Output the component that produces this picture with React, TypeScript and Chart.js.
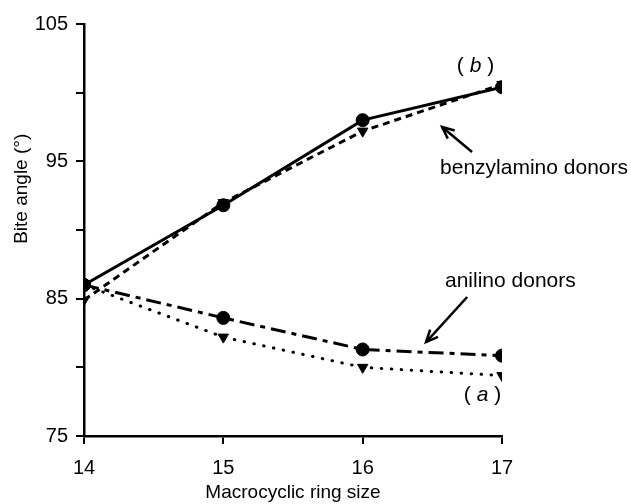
import React, { useEffect, useRef } from "react";
import { Chart, registerables } from "chart.js";

Chart.register(...registerables);

const ringSizes = [14, 15, 16, 17];
const benzylCircle = [86.0, 91.8, 98.0, 100.4];
const benzylTriangle = [84.9, 92.0, 97.2, 100.6];
const anilinoCircle = [86.0, 83.6, 81.3, 80.85];
const anilinoTriangle = [86.0, 82.2, 80.0, 79.4];

const yLabelTicks = [75, 85, 95, 105];

const FONT = "'Liberation Sans', Arial, sans-serif";

type Note = { kind: "text" | "paren" | "arrow"; text?: string; x: number; y: number; x2?: number; y2?: number };
const notes: Note[] = [
  { kind: "paren", text: "b", x: 16.81, y: 101.9 },
  { kind: "text", text: "benzylamino donors", x: 17.23, y: 94.5 },
  { kind: "arrow", x: 16.785, y: 95.68, x2: 16.57, y2: 97.5 },
  { kind: "text", text: "anilino donors", x: 17.06, y: 86.28 },
  { kind: "arrow", x: 16.75, y: 85.12, x2: 16.455, y2: 81.84 },
  { kind: "paren", text: "a", x: 16.86, y: 77.98 },
];

const notesPlugin = {
  id: "notes",
  afterDraw(chart: any) {
    const ctx = chart.ctx;
    const xs = chart.scales.x;
    const ys = chart.scales.y;
    ctx.save();
    ctx.fillStyle = "#000";
    ctx.strokeStyle = "#000";
    ctx.textBaseline = "middle";
    // y title
    ctx.save();
    ctx.translate(chart.chartArea.left - 62, ys.getPixelForValue(93));
    ctx.rotate(-Math.PI / 2);
    ctx.textAlign = "center";
    ctx.font = `19px ${FONT}`;
    ctx.fillText("Bite angle (°)", 0, 0);
    ctx.restore();
    for (const n of notes) {
      const px = xs.getPixelForValue(n.x);
      const py = ys.getPixelForValue(n.y);
      if (n.kind === "text") {
        ctx.font = `21px ${FONT}`;
        ctx.textAlign = "center";
        ctx.fillText(n.text, px, py);
      } else if (n.kind === "paren") {
        ctx.textAlign = "left";
        const normal = `21px ${FONT}`;
        const italic = `italic 21px ${FONT}`;
        ctx.font = normal;
        const wo = ctx.measureText("( ").width;
        const wc = ctx.measureText(" )").width;
        ctx.font = italic;
        const wl = ctx.measureText(n.text).width;
        const total = wo + wl + wc;
        const x0 = px - total / 2;
        ctx.font = normal;
        ctx.fillText("(", x0, py);
        ctx.font = italic;
        ctx.fillText(n.text, x0 + wo, py);
        ctx.font = normal;
        ctx.fillText(")", x0 + wo + wl + ctx.measureText(" ").width, py);
      } else {
        const hx = xs.getPixelForValue(n.x2);
        const hy = ys.getPixelForValue(n.y2);
        ctx.lineWidth = 2.5;
        ctx.setLineDash([]);
        ctx.beginPath();
        ctx.moveTo(px, py);
        ctx.lineTo(hx, hy);
        ctx.stroke();
        const ang = Math.atan2(hy - py, hx - px);
        const L = 13;
        const a = 0.42;
        ctx.beginPath();
        ctx.moveTo(hx - L * Math.cos(ang - a), hy - L * Math.sin(ang - a));
        ctx.lineTo(hx, hy);
        ctx.lineTo(hx - L * Math.cos(ang + a), hy - L * Math.sin(ang + a));
        ctx.stroke();
      }
    }
    ctx.restore();
  },
};

function series(label: string, values: number[], dash: number[], style: string, cap: string) {
  return {
    label,
    data: ringSizes.map((x, i) => ({ x, y: values[i] })),
    borderColor: "#000",
    backgroundColor: "#000",
    borderWidth: 3,
    borderDash: dash,
    borderCapStyle: cap,
    pointStyle: style,
    pointRotation: style === "triangle" ? 180 : 0,
    pointRadius: style === "triangle" ? 6 : 6.5,
    pointBorderWidth: 1,
    pointBorderColor: "#000",
    pointBackgroundColor: "#000",
    tension: 0,
    fill: false,
  };
}

export default function App() {
  const ref = useRef<HTMLCanvasElement | null>(null);
  useEffect(() => {
    if (!ref.current) return;
    const chart = new Chart(ref.current, {
      type: "line",
      data: {
        datasets: [
          series("anilino triangles", anilinoTriangle, [0.5, 9.5], "triangle", "round"),
          series("anilino circles", anilinoCircle, [15, 6, 5, 6], "circle", "butt"),
          series("benzyl triangles", benzylTriangle, [7, 5], "triangle", "butt"),
          series("benzyl circles", benzylCircle, [], "circle", "butt"),
        ] as any,
      },
      options: {
        animation: false,
        responsive: true,
        maintainAspectRatio: false,
        layout: { padding: { top: 24, right: 129, left: 0, bottom: 0 } },
        plugins: { legend: { display: false }, tooltip: { enabled: false } },
        scales: {
          x: {
            type: "linear",
            min: 14,
            max: 17,
            afterFit: (s: any) => { s.height = 68; },
            ticks: { stepSize: 1, color: "#000", font: { family: FONT, size: 20 }, padding: 12 },
            grid: { drawOnChartArea: false, drawTicks: true, tickLength: 8, color: "#000", lineWidth: 2 },
            border: { display: true, color: "#000", width: 2.5 },
            title: { display: true, text: "Macrocyclic ring size", color: "#000", font: { family: FONT, size: 19 }, padding: { top: 0, bottom: 0 } },
          },
          y: {
            min: 75,
            max: 105,
            afterFit: (s: any) => { s.width = 84; },
            ticks: {
              stepSize: 5,
              color: "#000",
              font: { family: FONT, size: 20 },
              padding: 8,
              callback: (v: any) => (yLabelTicks.includes(Number(v)) ? String(v) : ""),
            },
            grid: { drawOnChartArea: false, drawTicks: true, tickLength: 8, color: "#000", lineWidth: 2 },
            border: { display: true, color: "#000", width: 2.5 },
          },
        },
      },
      plugins: [notesPlugin],
    });
    return () => chart.destroy();
  }, []);
  return (
    <div style={{ position: "fixed", left: 0, top: 0, width: 631, height: 504, background: "#fff" }}>
      <canvas ref={ref} />
    </div>
  );
}
